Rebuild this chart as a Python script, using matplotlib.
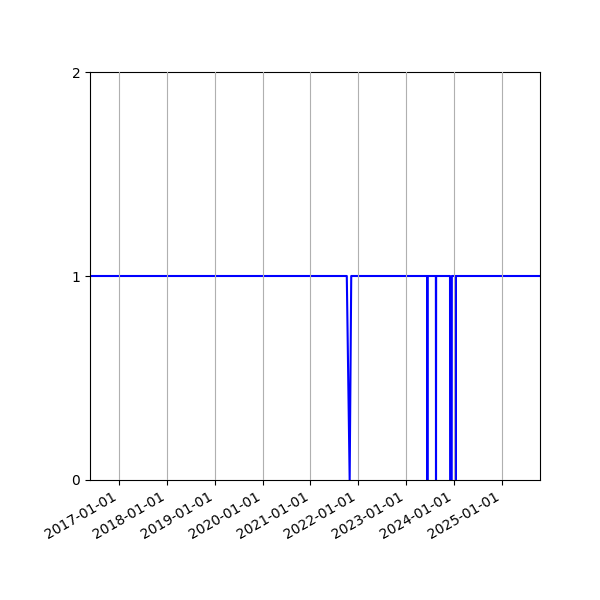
import matplotlib
matplotlib.use("Agg")
import matplotlib.pyplot as plt
import matplotlib.dates as mdates
import pandas as pd

# status series (1 = up, 0 = down), only breakpoints kept
dates = ["2016-05-22", "2021-10-06", "2021-10-28", "2021-11-09",
         "2023-06-13", "2023-06-14", "2023-06-15",
         "2023-08-18", "2023-08-19", "2023-08-20",
         "2023-12-04", "2023-12-05", "2023-12-17", "2023-12-18",
         "2024-01-16", "2024-01-17", "2024-01-18",
         "2025-10-22"]
values = [1, 1, 0, 1,
          1, 0, 1,
          1, 0, 1,
          1, 0, 0, 1,
          1, 0, 1,
          1]

x = pd.to_datetime(dates)

fig, ax = plt.subplots(figsize=(6, 6), dpi=100)
ax.plot(x, values, c="b", lw=1.5)
ax.set_xlim(x[0], x[-1])
ax.set_ylim(0, 2)
ax.set_yticks([0, 1, 2])
ax.xaxis.set_major_locator(mdates.YearLocator())
ax.xaxis.set_major_formatter(mdates.DateFormatter("%Y-%m-%d"))
ax.set_axisbelow(False)
ax.grid(axis="x")
fig.autofmt_xdate()
fig.subplots_adjust(left=0.15)
fig.savefig("out.png")
